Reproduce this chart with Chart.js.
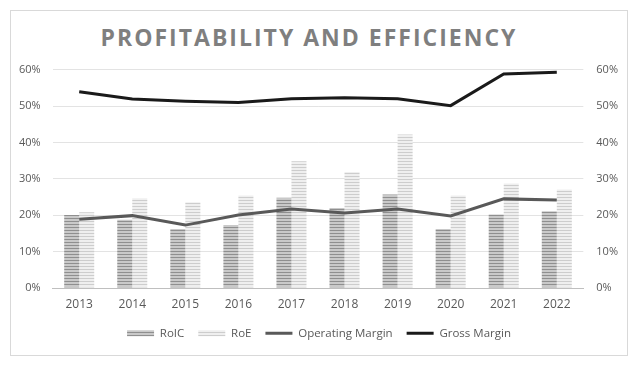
<!DOCTYPE html>
<html lang="en">
<head>
  <meta charset="UTF-8" />
  <title>Profitability and Efficiency</title>
  <script src="https://cdn.jsdelivr.net/npm/chart.js"></script>
  <style>
    html, body {
      margin: 0;
      padding: 0;
      background: #ffffff;
      font-family: 'Open Sans', sans-serif;
    }

    .frame {
      position: absolute;
      left: 10px;
      top: 10px;
      width: 616px;
      height: 344px;
      border: 1px solid #d9d9d9;
      background: #fff;
    }

    .title {
      position: absolute;
      left: 0;
      top: 10px;
      width: 596px;
      text-align: center;
      font-size: 23px;
      font-weight: bold;
      letter-spacing: 2px;
      color: #7f7f7f;
    }

    #profitChart {
      position: absolute;
      left: -4px;
      top: 39px;
    }
  </style>
</head>
<body>
  <div class="frame">
    <div class="title">PROFITABILITY AND EFFICIENCY</div>
    <canvas id="profitChart" width="624" height="299"></canvas>
  </div>

  <script>
    const years = ['2013', '2014', '2015', '2016', '2017', '2018', '2019', '2020', '2021', '2022'];
    const roic = [20.1, 18.8, 16.2, 17.3, 24.8, 22.0, 25.7, 16.2, 20.2, 21.1];
    const roe = [20.8, 24.7, 23.6, 25.4, 34.8, 31.9, 42.2, 25.4, 28.7, 27.1];
    const operatingMargin = [18.9, 19.9, 17.3, 20.1, 21.7, 20.6, 21.7, 19.8, 24.5, 24.2];
    const grossMargin = [53.9, 51.9, 51.3, 51.0, 52.0, 52.3, 52.0, 50.1, 58.8, 59.3];

    // horizontal stripe fill like the excel pattern bars
    function stripes(dark, light) {
      const c = document.createElement('canvas');
      c.width = 4;
      c.height = 3;
      const x = c.getContext('2d');
      x.fillStyle = light;
      x.fillRect(0, 0, 4, 3);
      x.fillStyle = dark;
      x.fillRect(0, 0, 4, 1);
      return x.createPattern(c, 'repeat');
    }

    const pctTick = v => v + '%';
    const tickFont = { family: 'Open Sans', size: 11 };

    new Chart(document.getElementById('profitChart'), {
      data: {
        labels: years,
        datasets: [
          {
            type: 'bar',
            label: 'RoIC',
            data: roic,
            backgroundColor: stripes('#8f8f8f', '#c9c9c9'),
            pointStyle: 'rect',
            order: 1
          },
          {
            type: 'bar',
            label: 'RoE',
            data: roe,
            backgroundColor: stripes('#cdcdcd', '#efefef'),
            pointStyle: 'rect',
            order: 1
          },
          {
            type: 'line',
            label: 'Operating Margin',
            data: operatingMargin,
            borderColor: '#595959',
            backgroundColor: '#595959',
            borderWidth: 3,
            pointRadius: 0,
            pointStyle: 'line',
            tension: 0,
            order: 0
          },
          {
            type: 'line',
            label: 'Gross Margin',
            data: grossMargin,
            borderColor: '#1a1a1a',
            backgroundColor: '#1a1a1a',
            borderWidth: 3,
            pointRadius: 0,
            pointStyle: 'line',
            tension: 0,
            order: 0
          }
        ]
      },
      options: {
        responsive: false,
        animation: false,
        datasets: {
          bar: { categoryPercentage: 0.566, barPercentage: 1 }
        },
        layout: { padding: { top: 16.4, left: 0, right: 0, bottom: 0 } },
        plugins: {
          tooltip: { enabled: false },
          legend: {
            position: 'bottom',
            labels: {
              usePointStyle: true,
              pointStyleWidth: 27,
              boxHeight: 6,
              padding: 14,
              color: '#595959',
              font: { family: 'Open Sans', size: 11.5 },
              sort: (a, b) => a.datasetIndex - b.datasetIndex
            }
          }
        },
        scales: {
          x: {
            grid: { display: false, drawTicks: false },
            border: { color: '#bfbfbf', width: 1 },
            ticks: { color: '#595959', font: { family: 'Open Sans', size: 12 }, padding: 9 },
            // pull the legend up closer to the year labels
            afterFit: s => { s.height -= 7; }
          },
          y: {
            position: 'left',
            min: 0,
            max: 60,
            ticks: { stepSize: 10, callback: pctTick, color: '#595959', font: tickFont, padding: 12 },
            grid: { color: '#e3e3e3', drawTicks: false },
            border: { display: false }
          },
          y1: {
            position: 'right',
            min: 0,
            max: 60,
            ticks: { stepSize: 10, callback: pctTick, color: '#595959', font: tickFont, padding: 13 },
            grid: { display: false, drawTicks: false },
            border: { display: false }
          }
        }
      }
    });
  </script>
</body>
</html>
